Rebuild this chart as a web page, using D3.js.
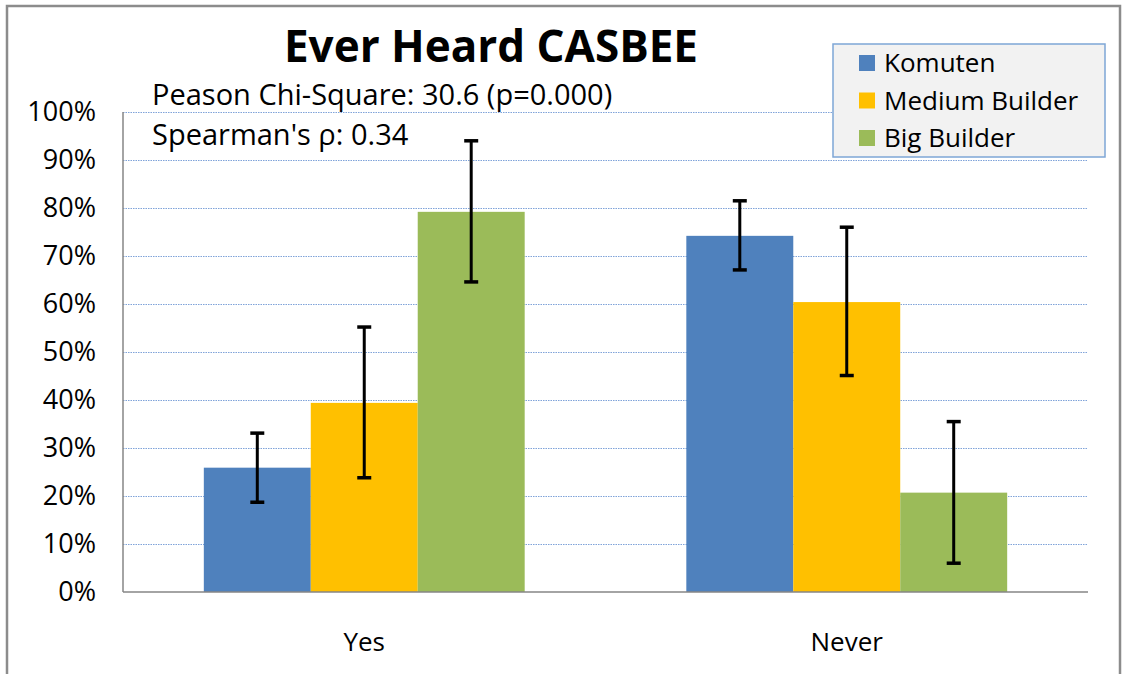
<!DOCTYPE html>
<html lang="en">
<head>
<meta charset="utf-8">
<title>Ever Heard CASBEE</title>
<script src="https://d3js.org/d3.v7.min.js"></script>
<style>
  body { margin: 0; background: #fff; }
  text { font-family: "Open Sans", sans-serif; fill: #000; }
</style>
</head>
<body>
<svg id="chart"></svg>
<script>
// data (percent)
var categories = ["Yes", "Never"];
var series = ["Komuten", "Medium Builder", "Big Builder"];
var colors = ["#4f81bd", "#ffc000", "#9bbb59"];
var values = {
  "Komuten":        [25.9, 74.2],
  "Medium Builder": [39.4, 60.4],
  "Big Builder":    [79.2, 20.7]
};
var errLow = {
  "Komuten":        [18.7, 67.1],
  "Medium Builder": [23.8, 45.1],
  "Big Builder":    [64.6, 6.0]
};
var errHigh = {
  "Komuten":        [33.1, 81.5],
  "Medium Builder": [55.2, 76.0],
  "Big Builder":    [94.0, 35.5]
};
var yTicks = [0, 10, 20, 30, 40, 50, 60, 70, 80, 90, 100];
var title = "Ever Heard CASBEE";
var notes = ["Peason Chi-Square: 30.6 (p=0.000)", "Spearman's \u03c1: 0.34"];

var width = 1126, height = 674;
var plot = {left: 123, right: 1088, top: 112, bottom: 592};

var svg = d3.select("#chart").attr("width", width).attr("height", height);

// outer frame
svg.append("rect")
  .attr("x", 7).attr("y", 6)
  .attr("width", 1113).attr("height", 700)
  .attr("fill", "#fff")
  .attr("stroke", "#8c8c8c").attr("stroke-width", 2.5);

var y = d3.scaleLinear().domain([0, 100]).range([plot.bottom, plot.top]);
var pad = 0.335;
var x0 = d3.scaleBand().domain(categories)
  .range([plot.left, plot.right])
  .paddingInner(pad).paddingOuter(pad / 2);
var x1 = d3.scaleBand().domain(series).range([0, x0.bandwidth()]);

// gridlines
svg.append("g").selectAll("line")
  .data(yTicks.filter(d => d > 0))
  .join("line")
  .attr("x1", plot.left).attr("x2", plot.right)
  .attr("y1", d => Math.round(y(d)) + 0.5).attr("y2", d => Math.round(y(d)) + 0.5)
  .attr("stroke", "#7fa3d9").attr("stroke-width", 1)
  .attr("stroke-dasharray", "1.5,1");

// y tick labels
svg.append("g").selectAll("text")
  .data(yTicks)
  .join("text")
  .attr("x", 96)
  .attr("y", d => y(d) + 9)
  .attr("text-anchor", "end")
  .attr("font-size", "27px")
  .text(d => d + "%");

// bars
var rows = [];
series.forEach(function (s, si) {
  categories.forEach(function (c, ci) {
    rows.push({s: s, c: c, si: si, v: values[s][ci], lo: errLow[s][ci], hi: errHigh[s][ci]});
  });
});

svg.append("g").selectAll("rect")
  .data(rows)
  .join("rect")
  .attr("x", d => x0(d.c) + x1(d.s))
  .attr("y", d => y(d.v))
  .attr("width", x1.bandwidth())
  .attr("height", d => y(0) - y(d.v))
  .attr("fill", d => colors[d.si]);

// error bars
var eb = svg.append("g").selectAll("g")
  .data(rows)
  .join("g")
  .attr("transform", d => "translate(" + (x0(d.c) + x1(d.s) + x1.bandwidth() / 2) + ",0)");
eb.append("line")
  .attr("y1", d => y(d.hi)).attr("y2", d => y(d.lo))
  .attr("stroke", "#000").attr("stroke-width", 3);
eb.selectAll(".cap")
  .data(d => [d.hi, d.lo])
  .join("line")
  .attr("class", "cap")
  .attr("x1", -7).attr("x2", 7)
  .attr("y1", d => y(d)).attr("y2", d => y(d))
  .attr("stroke", "#000").attr("stroke-width", 3.5);

// axes lines
svg.append("line")
  .attr("x1", plot.left).attr("x2", plot.left)
  .attr("y1", plot.top).attr("y2", plot.bottom)
  .attr("stroke", "#868686").attr("stroke-width", 1.5);
svg.append("line")
  .attr("x1", plot.left).attr("x2", plot.right)
  .attr("y1", plot.bottom).attr("y2", plot.bottom)
  .attr("stroke", "#868686").attr("stroke-width", 1.5);

// category labels
svg.append("g").selectAll("text")
  .data(categories)
  .join("text")
  .attr("x", d => x0(d) + x0.bandwidth() / 2)
  .attr("y", 651)
  .attr("text-anchor", "middle")
  .attr("font-size", "26px")
  .text(d => d);

// title and notes
svg.append("text")
  .attr("x", 491).attr("y", 62)
  .attr("text-anchor", "middle")
  .attr("font-size", "44px")
  .attr("font-weight", "bold")
  .text(title);

svg.append("g").selectAll("text")
  .data(notes)
  .join("text")
  .attr("x", 152)
  .attr("y", (d, i) => 105 + i * 40)
  .attr("font-size", "29px")
  .text(d => d);

// legend
var legend = svg.append("g").attr("transform", "translate(833,44)");
legend.append("rect")
  .attr("width", 272).attr("height", 113)
  .attr("fill", "#f2f2f2")
  .attr("stroke", "#7ea6d6").attr("stroke-width", 1.5);
var item = legend.selectAll("g")
  .data(series)
  .join("g")
  .attr("transform", (d, i) => "translate(26," + (11 + i * 37.5) + ")");
item.append("rect")
  .attr("width", 16).attr("height", 16)
  .attr("fill", (d, i) => colors[i]);
item.append("text")
  .attr("x", 25).attr("y", 17)
  .attr("font-size", "26px")
  .text(d => d);
</script>
</body>
</html>
